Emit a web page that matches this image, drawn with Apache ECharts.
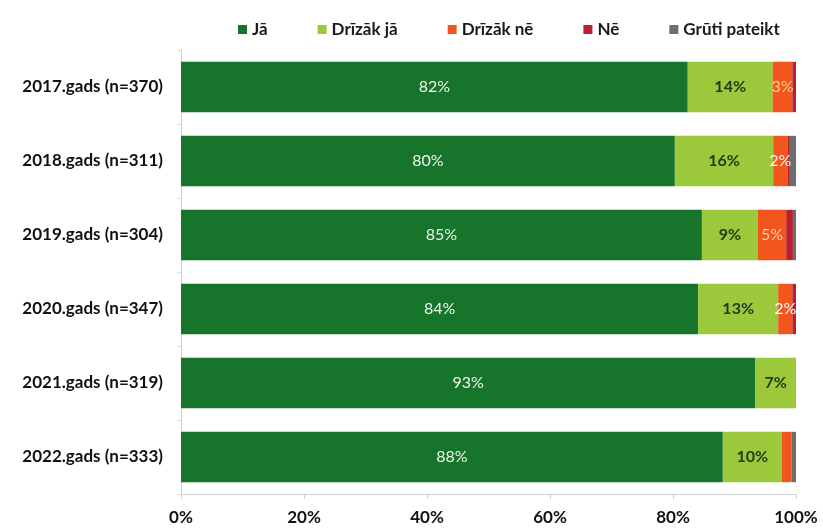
<!DOCTYPE html>
<html>
<head>
<meta charset="utf-8">
<script src="https://cdn.jsdelivr.net/npm/echarts@6/dist/echarts.min.js"></script>
<style>
  html, body { margin: 0; padding: 0; background: #fff; }
  #main { width: 823px; height: 530px; }
</style>
</head>
<body>
<div id="main"></div>
<script>
// gadi (no augšas uz leju)
var years = ['2017.gads (n=370)', '2018.gads (n=311)', '2019.gads (n=304)',
             '2020.gads (n=347)', '2021.gads (n=319)', '2022.gads (n=333)'];
var seriesNames = ['Jā', 'Drīzāk jā', 'Drīzāk nē', 'Nē', 'Grūti pateikt'];
// katra rinda: Jā, Drīzāk jā, Drīzāk nē, Nē, Grūti pateikt (%)
var jaRows = [
  [82.4, 13.8, 3.2, 0.6, 0.0],
  [80.3, 16.0, 2.3, 0.4, 1.0],
  [84.7, 9.1, 4.6, 1.1, 0.5],
  [84.1, 13.0, 2.3, 0.6, 0.0],
  [93.4, 6.6, 0.0, 0.0, 0.0],
  [88.1, 9.6, 1.6, 0.0, 0.7]
];
var colors = ['#17742b', '#9cc93c', '#f2561d', '#b8202e', '#6d6d6d'];
var labelColors = ['#eef5ea', '#1e3a14', '#ffd9a8', '#ffffff', '#ffffff'];
// "Drīzāk nē" uzrakstu krāsa pa gadiem
var neLabelColors = ['#ffd08a', '#ffffff', '#ffd2b0', '#ffffff', '#ffffff', '#ffffff'];
var xTicks = [0, 20, 40, 60, 80, 100];

var chart = echarts.init(document.getElementById('main'));
var series = seriesNames.map(function (name, i) {
  return {
    name: name,
    type: 'bar',
    stack: 'all',
    barCategoryGap: '32%',
    itemStyle: { color: colors[i] },
    label: {
      show: i < 3,
      position: 'inside',
      color: labelColors[i],
      fontFamily: 'Lato',
      fontSize: 16,
      fontWeight: i === 1 ? 'bold' : 'normal',
      formatter: function (p) {
        return p.value >= 1.8 ? Math.round(p.value) + '%' : '';
      }
    },
    data: jaRows.map(function (r, k) {
      if (i === 2) return { value: r[i], label: { color: neLabelColors[k] } };
      return r[i];
    })
  };
});

chart.setOption({
  animation: false,
  textStyle: { fontFamily: 'Lato' },
  legend: {
    top: 16,
    left: 233,
    itemWidth: 9,
    itemHeight: 9,
    itemGap: 50,
    icon: 'rect',
    textStyle: { fontSize: 17, color: '#1a1a1a', fontFamily: 'Lato', fontWeight: 'bold' },
    data: seriesNames
  },
  grid: { left: 181, right: 27, top: 50, bottom: 36, containLabel: false },
  xAxis: {
    type: 'value',
    min: 0,
    max: 100,
    interval: 20,
    axisLine: { show: true, lineStyle: { color: '#d0d0d0' } },
    axisTick: { show: true, length: 5, lineStyle: { color: '#d0d0d0' } },
    splitLine: { show: false },
    axisLabel: {
      color: '#111',
      fontSize: 17,
      fontWeight: 'bold',
      margin: 15,
      formatter: function (v) { return xTicks.indexOf(v) >= 0 ? v + '%' : ''; }
    }
  },
  yAxis: {
    type: 'category',
    inverse: true,
    data: years,
    axisLine: { show: true, lineStyle: { color: '#d0d0d0' } },
    axisTick: { show: true, length: 4, lineStyle: { color: '#e0e0e0' } },
    axisLabel: { color: '#111', fontSize: 17, fontWeight: 'bold', margin: 18 }
  },
  series: series
});
</script>
</body>
</html>
